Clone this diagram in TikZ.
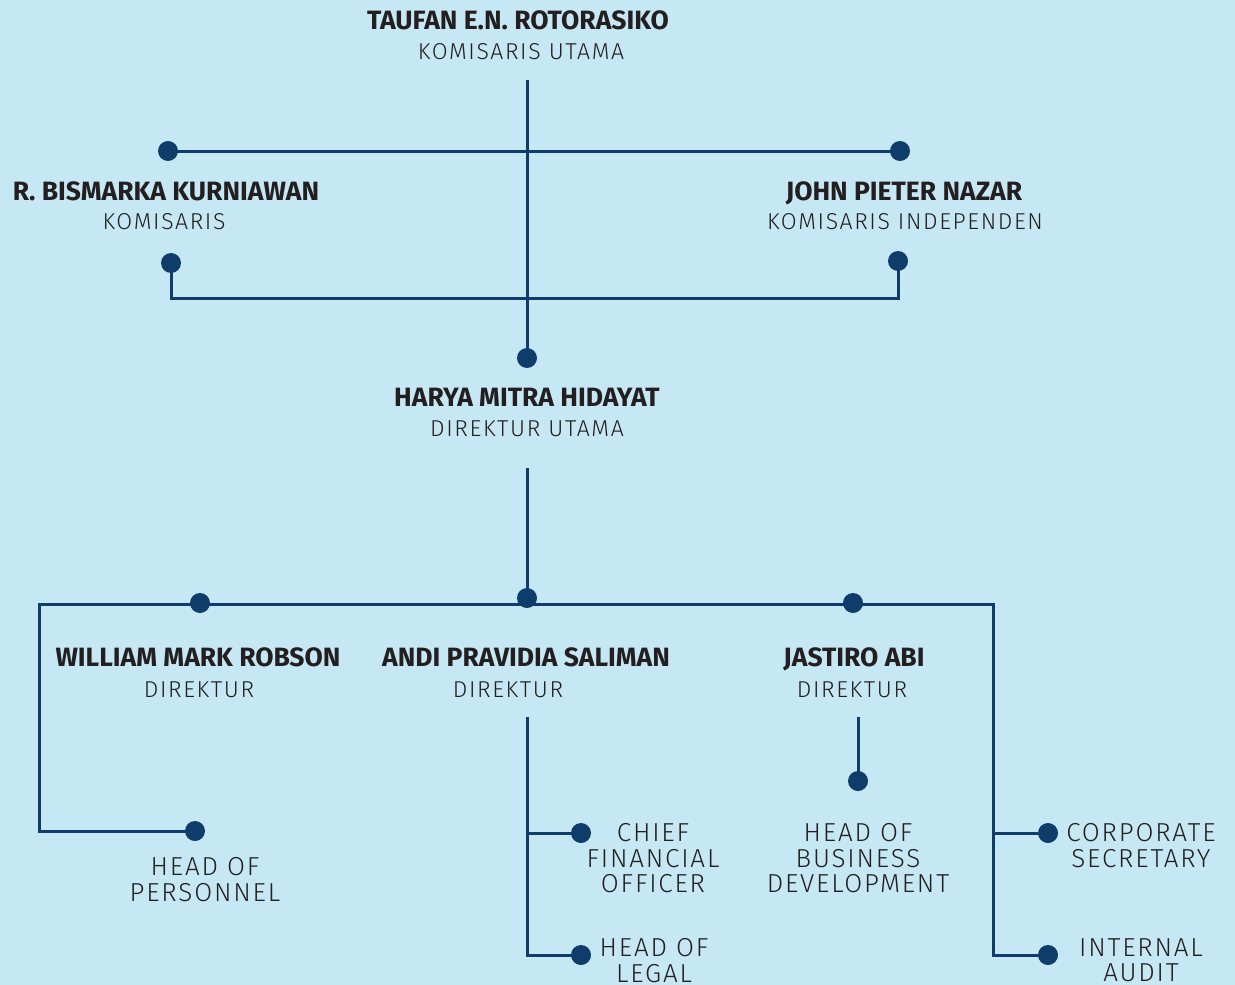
\documentclass[tikz,border=0pt]{standalone}
\usepackage{fontspec}
\setmainfont{Fira Sans}
\newfontfamily\thinfont{Fira Sans Light}[LetterSpace=7]
\definecolor{bg}{HTML}{C6E8F4}
\definecolor{wirec}{HTML}{0F3D6B}
\definecolor{ink}{HTML}{231F20}
\begin{document}
\begin{tikzpicture}[x=1pt,y=-1pt,
  dot/.style={circle,fill=wirec,inner sep=0pt,minimum size=20pt},
  wire/.style={draw=wirec,line width=3pt},
  person/.style={font=\fontsize{26.5}{30}\selectfont\bfseries,text=ink,inner sep=0pt,anchor=base},
  role/.style={font=\thinfont\fontsize{23}{28}\selectfont,text=ink,inner sep=0pt,anchor=base},
  unit/.style={font=\thinfont\fontsize{26}{25.7}\selectfont,text=ink,inner sep=0pt,anchor=north,align=center}]
\fill[bg] (0,0) rectangle (1235,985);
\useasboundingbox (0,0) rectangle (1235,985);

% board of commissioners
\node[person] (tn) at (518,30) {TAUFAN E.N. ROTORASIKO};
\node[role]   (tr) at (521,59) {KOMISARIS UTAMA};
\node[person] (bn) at (166,200) {R. BISMARKA KURNIAWAN};
\node[role]   (br) at (164,229) {KOMISARIS};
\node[person] (jn) at (904,200) {JOHN PIETER NAZAR};
\node[role]   (jr) at (905,229) {KOMISARIS INDEPENDEN};

\node[dot] (kb1) at (168,151) {};
\node[dot] (jp1) at (900,151) {};
\node[dot] (kb2) at (171,263) {};
\node[dot] (jp2) at (898,261) {};
\node[dot] (hm)  at (527,358) {};
\coordinate (t0) at (527,80);
\coordinate (kbjp) at (534,298);

\draw[wire] (t0) -- (hm.center);
\draw[wire] (kb1.center) -- (jp1.center);
\draw[wire] (kb2.center) |- (kbjp) -| (jp2.center);

% president director
\node[person] (hn) at (527,406) {HARYA MITRA HIDAYAT};
\node[role]   (hr) at (527,436) {DIREKTUR UTAMA};

% directors
\node[dot] (wr) at (200,603) {};
\node[dot] (dp) at (527,598) {};
\node[dot] (ja) at (853,603) {};
\coordinate (h0) at (527,468);
\coordinate (barL) at (39,604);
\coordinate (barR) at (993,604);

\node[person] (wn) at (198,666) {WILLIAM MARK ROBSON};
\node[role]   (wd) at (199,697) {DIREKTUR};
\node[person] (an) at (526,666) {ANDI PRAVIDIA SALIMAN};
\node[role]   (ad) at (508,697) {DIREKTUR};
\node[person] (jan) at (854,666) {JASTIRO ABI};
\node[role]   (jad) at (852,697) {DIREKTUR};

% units
\node[dot] (hp) at (195,831) {};
\node[dot] (cf) at (581,833) {};
\node[dot] (hl) at (581,955) {};
\node[dot] (hb) at (858,781) {};
\node[dot] (cs) at (1048,833) {};
\node[dot] (ia) at (1048,955) {};
\coordinate (a0) at (527,717);
\coordinate (j0) at (858,717);

\draw[wire] (h0) -- (dp.center);
\draw[wire] (hp.center) -| (barL) -- (barR) |- (ia.center);
\draw[wire] (cs.center) -- (cs.center -| barR);
\draw[wire] (a0) |- (hl.center);
\draw[wire] (cf.center) -- (cf.center -| a0);
\draw[wire] (j0) -- (hb.center);

\node[unit] (hpt) at (205,857) {HEAD OF\\PERSONNEL};
\node[unit] (cft) at (653,823) {CHIEF\\FINANCIAL\\OFFICER};
\node[unit] (hlt) at (654,938) {HEAD OF\\LEGAL};
\node[unit] (hbt) at (858,823) {HEAD OF\\BUSINESS\\DEVELOPMENT};
\node[unit] (cst) at (1141,823) {CORPORATE\\SECRETARY};
\node[unit] (iat) at (1141,938) {INTERNAL\\AUDIT};
\end{tikzpicture}
\end{document}
